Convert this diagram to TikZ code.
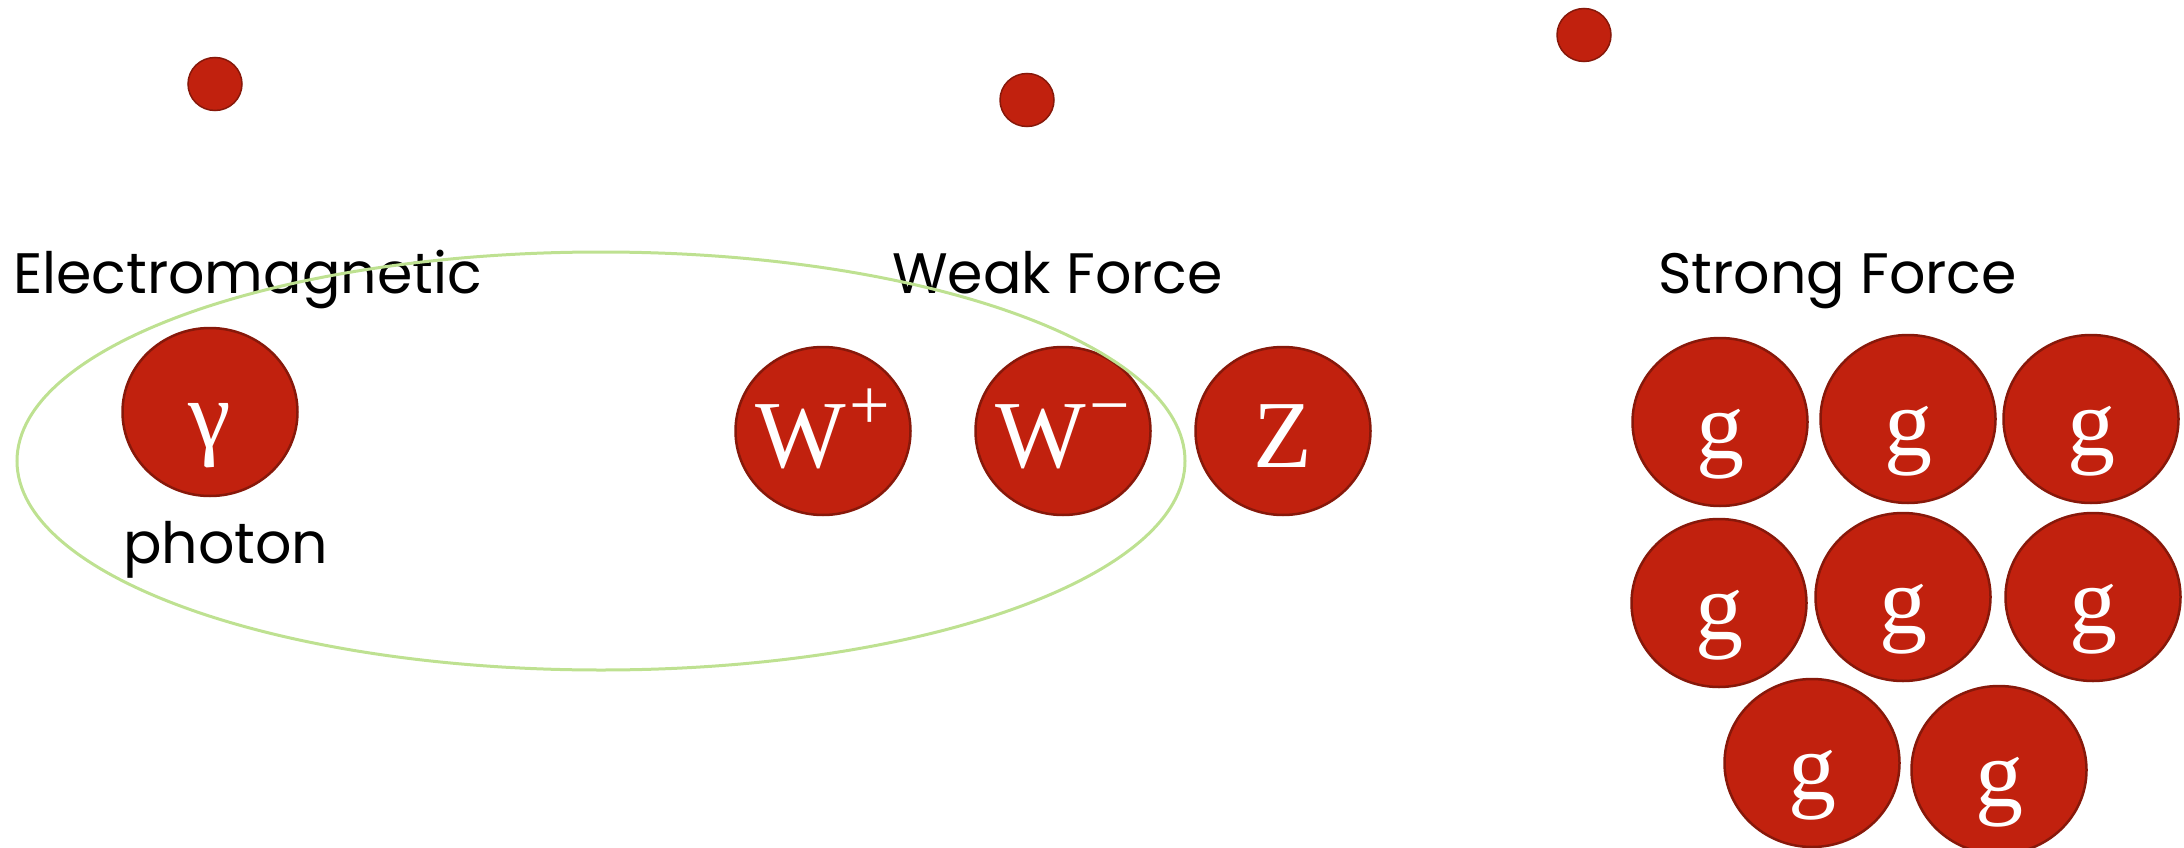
\documentclass[tikz,border=0pt]{standalone}
\usepackage{fontspec}
\setmainfont{Poppins}
\newfontfamily\serifp{Liberation Serif}
\usetikzlibrary{shapes.geometric}
\definecolor{pred}{RGB}{193,33,14}
\definecolor{pborder}{RGB}{135,24,10}
\definecolor{egreen}{RGB}{190,225,145}
\begin{document}
\begin{tikzpicture}[x=1pt,y=-1pt,
  particle/.style={ellipse, fill=pred, draw=pborder, line width=2.5pt, minimum width=175pt, minimum height=168pt, inner sep=0pt},
  smalldot/.style={ellipse, fill=pred, draw=pborder, line width=1.5pt, minimum width=54pt, minimum height=53pt, inner sep=0pt},
  sym/.style={anchor=base, text=white, font=\serifp\fontsize{96}{96}\selectfont, inner sep=0pt},
  lbl/.style={anchor=base west, font=\fontsize{57}{60}\selectfont, inner sep=0pt},
  group/.style={ellipse, draw=egreen, line width=3pt, minimum width=1168pt, minimum height=418pt, inner sep=0pt}]
\useasboundingbox (0,0) rectangle (2184,848);
% small dots
\node[smalldot] (d1) at (215,84) {};
\node[smalldot] (d2) at (1027,100) {};
\node[smalldot] (d3) at (1584,35) {};
% labels
\node[lbl] (em) at (13,293) {Electromagnetic};
\node[lbl] (wf) at (892,293) {Weak Force};
\node[lbl] (sf) at (1658,293) {Strong Force};
\node[lbl] (ph) at (123,563) {photon};
% particles
\node[particle] (gam) at (210,412) {};
\node[sym] (tgam) at (210,447) {γ};
\node[particle] (wp) at (823,431) {};
\node[sym] (twp) at (823,467) {W\kern3pt\raisebox{38pt}{\fontsize{72}{72}\selectfont +}};
\node[particle] (wm) at (1063,431) {};
\node[sym] (twm) at (1063,467) {W\kern3pt\raisebox{38pt}{\fontsize{72}{72}\selectfont −}};
\node[particle] (zz) at (1283,431) {};
\node[sym] (tzz) at (1283,467) {Z};
% gluons
\foreach \n/\x/\y in {g1/1720/422, g2/1908/419, g3/2091/419, g4/1719/603, g5/1903/597, g6/2093/597, g7/1812/763, g8/1999/770}{
  \node[particle] (\n) at (\x,\y) {};
  \node[sym] (t\n) at (\x,\y+36) {g};
}
% electroweak grouping ellipse
\node[group] (ew) at (601,461) {};
\end{tikzpicture}
\end{document}
